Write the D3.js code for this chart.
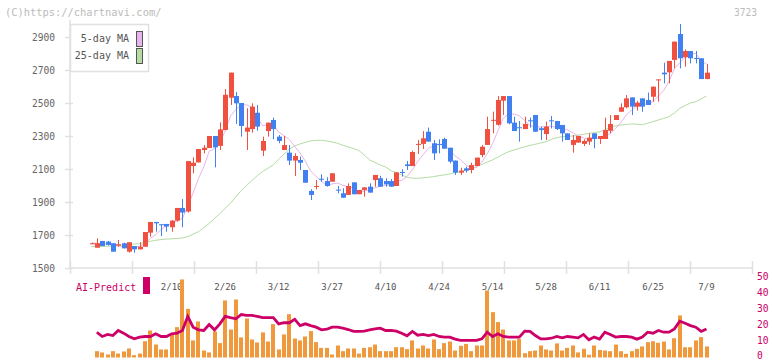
<!DOCTYPE html>
<html>
<head>
<meta charset="utf-8">
<script src="https://cdn.jsdelivr.net/npm/d3@7"></script>
<style>
  body { margin: 0; background: #fff; }
  svg { display: block; font-family: "DejaVu Sans Mono", monospace; }
</style>
</head>
<body>
<div class="chart"></div>
<script>
// daily candles, 2025-01-20 .. 2025-07-09
var opens  = [1650,1623,1664,1660,1650,1636,1650,1599,1633,1613,1629,1714,1779,1765,1767,1747,1787,1864,1842,2118,
              2140,2215,2227,2300,2240,2336,2532,2542,2500,2326,2342,2441,2211,2330,2397,2296,2215,2199,2151,2155,
              2094,1967,1993,2041,2027,2023,1975,1953,1943,2019,1947,1973,1993,2033,2044,2027,2027,1997,2082,2128,
              2118,2248,2252,2326,2256,2252,2282,2229,2151,2078,2104,2094,2118,2185,2246,2395,2368,2514,2542,2381,
              2353,2342,2395,2427,2347,2312,2395,2391,2367,2316,2246,2260,2252,2266,2316,2282,2282,2332,2397,2447,
              2474,2534,2478,2528,2518,2538,2640,2684,2686,2761,2918,2777,2815,2773,2771,2645];
var highs  = [1654,1680,1664,1664,1650,1670,1654,1656,1633,1656,1718,1779,1779,1765,1767,1790,1864,1918,2148,2171,
              2221,2245,2300,2300,2383,2585,2684,2567,2500,2468,2498,2488,2296,2381,2411,2306,2300,2245,2195,2175,
              2094,1977,2033,2068,2050,2074,1997,1983,2013,2019,1973,1989,2013,2064,2058,2044,2039,2080,2098,2149,
              2211,2276,2330,2351,2276,2280,2290,2229,2151,2108,2114,2138,2169,2246,2417,2448,2542,2542,2542,2417,
              2391,2417,2411,2427,2357,2387,2421,2391,2367,2316,2306,2300,2280,2316,2316,2300,2411,2427,2427,2498,
              2548,2534,2512,2528,2563,2599,2643,2744,2755,2872,2979,2825,2815,2815,2771,2736];
var lows   = [1646,1623,1633,1636,1599,1629,1619,1593,1593,1613,1629,1690,1720,1694,1720,1720,1781,1747,1836,2074,
              2140,2195,2227,2110,2215,2336,2488,2373,2296,2215,2320,2332,2179,2296,2280,2256,2215,2124,2058,2094,
              2017,1912,1977,2023,1993,2023,1953,1926,1943,1947,1947,1932,1957,1993,1993,1993,1993,1997,2054,2094,
              2118,2191,2221,2266,2155,2195,2223,2134,2064,2064,2078,2074,2118,2171,2246,2316,2363,2427,2371,2330,
              2266,2342,2351,2326,2276,2276,2346,2336,2266,2276,2199,2260,2239,2246,2225,2252,2282,2316,2397,2447,
              2468,2427,2454,2447,2488,2508,2508,2619,2619,2710,2710,2720,2740,2740,2645,2645];
var closes = [1650,1650,1633,1640,1599,1644,1619,1656,1613,1629,1718,1779,1771,1761,1751,1787,1864,1836,2148,2138,
              2221,2229,2300,2231,2340,2550,2684,2498,2361,2351,2478,2357,2270,2381,2342,2270,2245,2151,2179,2138,
              2017,1943,1997,2037,1997,2074,1971,1926,1997,1947,1973,1989,1957,2064,1993,2007,1993,2080,2078,2118,
              2203,2252,2286,2266,2195,2248,2223,2145,2078,2090,2090,2124,2169,2235,2342,2398,2518,2542,2377,2330,
              2349,2373,2391,2326,2336,2357,2391,2342,2316,2276,2276,2300,2270,2290,2282,2300,2336,2373,2427,2474,
              2528,2478,2502,2478,2488,2599,2643,2674,2755,2872,2771,2815,2771,2769,2645,2684];

var ma5  = [1650,1650,1645,1645,1634,1633,1627,1632,1626,1632,1647,1679,1702,1732,1756,1770,1787,1800,1877,1955,
            2041,2114,2207,2224,2264,2330,2421,2461,2487,2489,2474,2409,2363,2367,2366,2324,2302,2278,2237,2197,
            2146,2086,2055,2026,1998,2010,2015,2001,1993,1983,1963,1966,1973,1986,1995,2002,2003,2027,2030,2055,
            2094,2146,2187,2225,2240,2249,2244,2215,2178,2157,2125,2105,2110,2142,2192,2254,2332,2407,2435,2433,
            2423,2394,2364,2354,2355,2357,2360,2350,2348,2336,2320,2302,2288,2282,2284,2288,2296,2316,2344,2382,
            2428,2456,2482,2492,2495,2509,2542,2576,2632,2709,2743,2777,2797,2800,2754,2737];
var ma25 = [1630,1630,1630,1632,1634,1637,1640,1643,1645,1648,1655,1662,1668,1672,1675,1677,1679,1682,1690,1705,
            1720,1745,1770,1800,1830,1862,1892,1932,1970,2000,2030,2060,2085,2105,2125,2160,2190,2220,2240,2252,
            2262,2270,2274,2274,2270,2264,2256,2244,2234,2224,2212,2185,2155,2140,2124,2112,2090,2078,2064,2050,
            2044,2044,2046,2050,2054,2060,2064,2070,2078,2084,2094,2104,2114,2128,2142,2155,2172,2190,2205,2215,
            2225,2235,2243,2250,2258,2265,2280,2290,2296,2298,2300,2305,2310,2316,2320,2326,2338,2350,2361,2366,
            2370,2373,2372,2368,2378,2387,2397,2407,2417,2440,2468,2485,2500,2508,2525,2542];

// lower panel (first day has no value)
var volume = [null,4.0,3.2,1.9,4.0,2.5,3.8,5.7,1.5,2.5,10.3,17.1,8.2,5.1,5.1,14.6,19.2,49.4,30.8,10.8,
              22.8,4.4,3.2,16.5,9.1,36.1,17.7,36.7,12.7,24.7,11.4,9.5,15.9,10.1,21.1,5.1,14.6,27.4,12.0,10.8,
              13.3,16.7,9.7,6.1,6.1,1.9,7.6,4.0,5.7,5.7,2.5,6.1,6.5,8.2,4.0,4.0,4.0,6.5,6.5,5.3,
              10.8,5.7,7.6,5.7,11.4,5.3,9.1,10.1,4.4,7.4,8.6,4.0,7.6,7.6,42.4,28.7,22.4,17.7,10.8,10.8,
              11.8,2.7,4.0,4.4,7.6,5.1,4.4,8.9,4.4,6.1,7.6,3.2,5.5,1.7,7.6,4.8,4.4,4.0,8.2,4.0,
              2.3,4.0,5.5,7.0,9.7,10.3,9.3,10.1,5.1,12.2,26.6,6.5,6.5,10.8,12.9,7.0];
var aiPredict = [null,16.0,13.3,14.6,13.9,17.1,15.4,13.3,11.8,12.9,13.3,13.3,15.0,13.3,13.3,15.0,15.4,17.1,26.0,19.2,
                 17.5,17.1,20.9,17.5,21.3,26.0,25.2,24.5,27.2,26.6,26.6,26.0,25.2,25.2,25.2,21.3,22.0,22.0,24.1,20.2,
                 21.3,20.2,19.2,17.5,17.9,19.2,19.2,18.6,17.7,16.5,16.5,16.7,17.5,18.1,18.6,17.1,17.1,16.7,15.4,13.7,
                 16.5,14.1,14.6,13.9,14.6,13.3,12.9,12.9,11.6,10.8,10.8,10.8,10.8,11.8,16.0,13.3,15.0,13.3,12.9,12.9,
                 12.9,16.7,16.5,13.9,11.8,11.8,12.2,13.3,12.4,13.3,12.9,12.4,14.6,11.2,12.9,11.6,16.0,14.6,12.9,13.3,
                 13.3,12.9,11.6,12.9,16.0,15.4,17.1,16.0,16.0,18.1,23.0,21.7,20.2,19.2,16.5,18.1];

var yTicks = [1500,1700,1900,2100,2300,2500,2700,2900];
var aiTicks = [0,10,20,30,40,50];
var dateLabels = ["2/10","2/26","3/12","3/27","4/10","4/24","5/14","5/28","6/11","6/25","7/9"];
var dateIdx    = [15,25,35,45,55,65,75,85,95,105,115];

var W = 772, H = 361;
var upColor = "#f05040", downColor = "#4080f0";

var svg = d3.select(".chart").append("svg")
    .attr("width", W)
    .attr("height", H);

var days = d3.range(closes.length);

// scales
var x = d3.scaleLinear().domain([0, closes.length - 1]).range([91.5, 706.5]);
var y = d3.scaleLinear().domain([1500, 2900]).range([268, 37]);
var yAi = d3.scaleLinear().domain([0, 50]).range([357.5, 278.5]);
var grid = d3.scaleLinear().domain([0, 11]).range([70, 752]);

// header texts
svg.append("text").attr("x", 5).attr("y", 16)
    .style("font-size", "10.4px").style("fill", "#bbb")
    .text("(C)https://chartnavi.com/");
svg.append("text").attr("x", 757).attr("y", 16).attr("text-anchor", "end")
    .style("font-size", "9.6px").style("fill", "#bbb")
    .text("3723");

// ------------------------------------------------------------------
// axes of the price panel
var yAxis = svg.append("g")
    .attr("transform", "translate(70,0)")
    .call(d3.axisLeft(y).tickValues(yTicks).tickFormat(d3.format("d")).tickSize(5).tickPadding(10));
yAxis.select(".domain").attr("d", "M0,20V268").style("stroke", "#e0e0e0").style("stroke-width", 1.5);
yAxis.selectAll(".tick line").attr("x1", 3).attr("x2", -5).style("stroke", "#e0e0e0").style("stroke-width", 1.5);
yAxis.selectAll(".tick text").style("font-family", "DejaVu Sans Mono, monospace")
    .style("font-size", "9.6px").style("fill", "#666");

var xAxis = svg.append("g")
    .attr("transform", "translate(0,268)")
    .call(d3.axisBottom(grid).tickValues(d3.range(12)).tickFormat(""));
xAxis.select(".domain").attr("d", "M70,0H752").style("stroke", "#e0e0e0").style("stroke-width", 1.5);
xAxis.selectAll(".tick line").attr("y1", -7).attr("y2", 6).style("stroke", "#e0e0e0").style("stroke-width", 1.5);

// moving averages
var line = function(arr) {
  return d3.line().x(function(d, i) { return x(i); }).y(function(d) { return y(d); })(arr);
};
svg.append("path").attr("d", line(ma25))
    .style("fill", "none").style("stroke", "#b4dca4").style("stroke-width", 1);
svg.append("path").attr("d", line(ma5))
    .style("fill", "none").style("stroke", "#e8b4ec").style("stroke-width", 1);

// candles
var candle = svg.append("g").selectAll("g")
    .data(days)
    .enter().append("g");
candle.append("line")
    .attr("x1", function(i) { return Math.round(x(i)) + 0.5; })
    .attr("x2", function(i) { return Math.round(x(i)) + 0.5; })
    .attr("y1", function(i) { return y(highs[i]); })
    .attr("y2", function(i) { return y(lows[i]); })
    .style("stroke", function(i) { return closes[i] >= opens[i] ? upColor : downColor; })
    .style("stroke-width", 1);
candle.append("rect")
    .attr("x", function(i) { return Math.round(x(i)) - 2; })
    .attr("width", 5)
    .attr("y", function(i) { return y(Math.max(opens[i], closes[i])); })
    .attr("height", function(i) { return Math.max(1, Math.abs(y(opens[i]) - y(closes[i]))); })
    .style("fill", function(i) { return closes[i] >= opens[i] ? upColor : downColor; });

// legend
var legend = svg.append("g");
legend.append("rect").attr("x", 70.5).attr("y", 24.5).attr("width", 78).attr("height", 47)
    .style("fill", "#fff").style("stroke", "#e0e0e0").style("stroke-width", 1.5);
var legendItems = [["5-day MA", "#e8b4ec", 31], ["25-day MA", "#b4dca4", 48]];
legendItems.forEach(function(d) {
  legend.append("text").attr("x", 129).attr("y", d[2] + 11).attr("text-anchor", "end")
      .style("font-size", "10px").style("fill", "#555").text(d[0]);
  legend.append("rect").attr("x", 136.5).attr("y", d[2] + 0.5).attr("width", 6).attr("height", 15)
      .style("fill", d[1]).style("stroke", "#555").style("stroke-width", 1);
});

// ------------------------------------------------------------------
// lower panel
svg.append("text").attr("x", 76).attr("y", 291)
    .style("font-size", "10px").style("fill", "#cc0066").text("AI-Predict");
svg.append("rect").attr("x", 143).attr("y", 277).attr("width", 7).attr("height", 17)
    .style("fill", "#cc0066");

svg.append("g").selectAll("text")
    .data(dateLabels)
    .enter().append("text")
    .attr("x", function(d, i) { return x(dateIdx[i]); })
    .attr("y", 290)
    .attr("text-anchor", "middle")
    .style("font-size", "9px").style("fill", "#555")
    .text(function(d) { return d; });

svg.append("g").selectAll("rect")
    .data(days.filter(function(i) { return volume[i] != null; }))
    .enter().append("rect")
    .attr("x", function(i) { return Math.round(x(i)) - 2; })
    .attr("width", 4)
    .attr("y", function(i) { return yAi(volume[i]); })
    .attr("height", function(i) { return yAi(0) - yAi(volume[i]); })
    .style("fill", "#f0983c");

svg.append("path")
    .attr("d", d3.line()
        .defined(function(d) { return d != null; })
        .x(function(d, i) { return x(i); })
        .y(function(d) { return yAi(d); })(aiPredict))
    .style("fill", "none").style("stroke", "#cc0066").style("stroke-width", 2.8);

var aiAxis = svg.append("g")
    .attr("transform", "translate(752,0)")
    .call(d3.axisRight(yAi).tickValues(aiTicks).tickSize(0).tickPadding(5));
aiAxis.select(".domain").remove();
aiAxis.selectAll(".tick text").attr("dy", "0.15em")
    .style("font-family", "DejaVu Sans Mono, monospace")
    .style("font-size", "9.6px").style("fill", "#cc0066");
</script>
</body>
</html>
